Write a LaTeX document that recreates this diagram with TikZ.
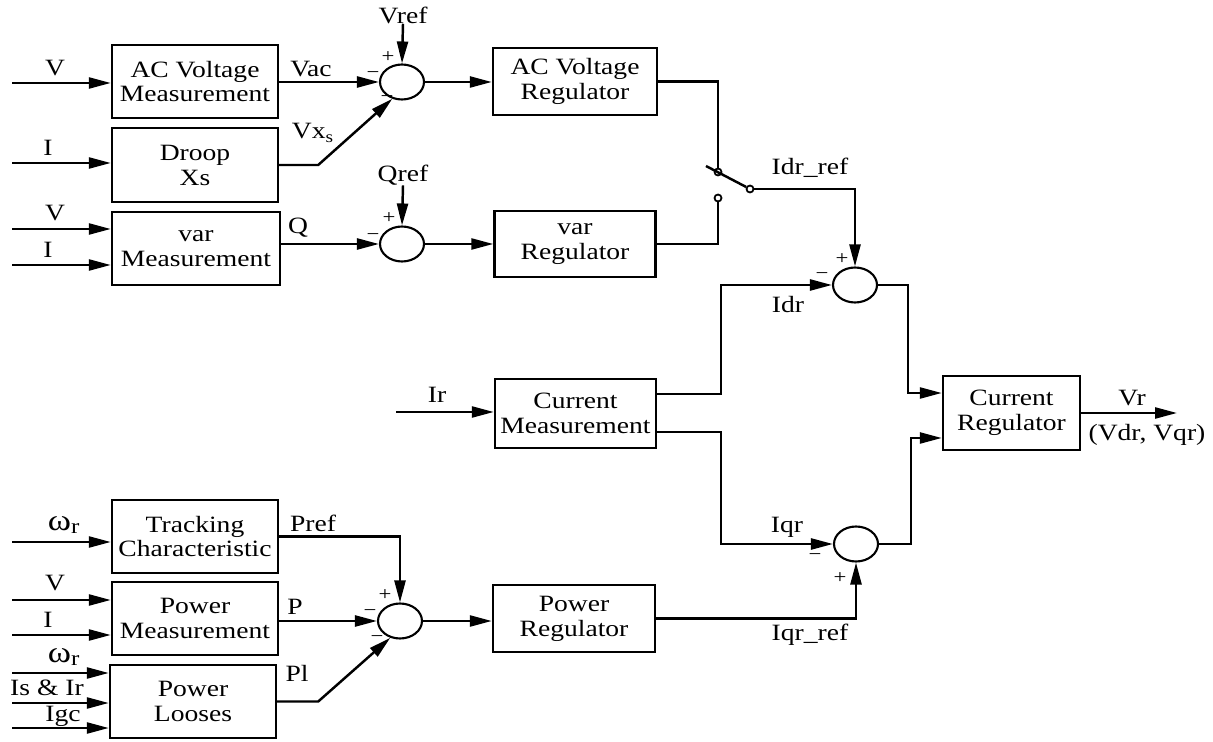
\documentclass[tikz,border=0pt]{standalone}
\usepackage{fontspec}
\setmainfont{Liberation Serif}[FakeStretch=1.18]
\usetikzlibrary{arrows.meta,shapes.geometric}

\newcommand{\blkfont}{\fontsize{13.3}{14.2}\selectfont}
\newcommand{\omr}{{\fontsize{17}{17}\selectfont ω}\textsubscript{\fontsize{12}{12}\selectfont r}}

\tikzset{
  block/.style={draw, line width=1.4pt, inner sep=0pt, align=center, font=\blkfont},
  sumpt/.style={draw, ellipse, line width=1.2pt, minimum width=0.88cm, minimum height=0.7cm, inner sep=0pt},
  sig/.style={line width=1.4pt, -{Triangle[length=0.44cm,width=0.22cm]}},
  wire/.style={line width=1.4pt},
  lbl/.style={font=\blkfont, inner sep=0pt},
  sgn/.style={font=\fontsize{11}{11}\selectfont, inner sep=0pt},
  contact/.style={draw, circle, fill=white, line width=1pt, minimum size=0.14cm, inner sep=0pt}
}

\begin{document}
\begin{tikzpicture}[x=0.02cm, y=-0.02cm]
        \useasboundingbox (0,0) rectangle (1213,742);

        % Blocks
        \node[block, minimum width=3.32cm, minimum height=1.46cm] (acm) at (195,81.5) {AC Voltage\\Measurement};
        \node[block, minimum width=3.32cm, minimum height=1.48cm] (droop) at (195,165) {Droop\\Xs};
        \node[block, minimum width=3.36cm, minimum height=1.46cm] (varm) at (196,248.5) {var\\Measurement};
        \node[block, minimum width=3.28cm, minimum height=1.34cm] (acr) at (575,81.5) {AC Voltage\\Regulator};
        \node[block, minimum width=3.22cm, minimum height=1.32cm] (varr) at (575,244) {var\\Regulator};
        \node[block, minimum width=3.22cm, minimum height=1.38cm] (curm) at (575.5,413.5) {Current\\Measurement};
        \node[block, minimum width=2.74cm, minimum height=1.48cm] (curr) at (1011.5,413) {Current\\Regulator};
        \node[block, minimum width=3.32cm, minimum height=1.46cm] (track) at (195,536.5) {Tracking\\Characteristic};
        \node[block, minimum width=3.32cm, minimum height=1.46cm] (powm) at (195,618.5) {Power\\Measurement};
        \node[block, minimum width=3.32cm, minimum height=1.46cm] (loss) at (193,701.5) {Power\\Looses};
        \node[block, minimum width=3.24cm, minimum height=1.34cm] (powr) at (574,618.5) {Power\\Regulator};

        % Summing points
        \node[sumpt] (s1) at (402,82) {};
        \node[sumpt] (s2) at (402,244) {};
        \node[sumpt] (s3) at (855,285) {};
        \node[sumpt] (s4) at (856,544) {};
        \node[sumpt] (s5) at (400,621) {};

        % Switch
        \node[contact] (swA) at (718,172) {};
        \node[contact] (swB) at (718,198) {};
        \node[contact] (swP) at (750,189) {};
        \coordinate (blade) at (706,166);

        % Inputs
        \foreach \y/\b in {83/acm, 163/droop, 229/varm, 265/varm, 542/track,
                           600/powm, 635/powm, 673/loss, 703/loss, 728/loss}
            \draw[sig] (12,\y) coordinate (in\y) -- (in\y -| \b.west);
        \coordinate (inIr) at (396,412);
        \draw[sig] (inIr) -- (inIr -| curm.west);

        % Voltage loop
        \node[lbl] (vref) at (403,15) {Vref};
        \draw[sig] (vref.south) -- (s1.north);
        \draw[sig] (acm.east |- s1) -- (s1.west);
        \draw[sig] (droop.east) -- ++(39,0) -- (s1.240);
        \draw[sig] (s1.east) -- (acr.west |- s1);
        \draw[wire] (acr.east) -| (swA.north);

        % var loop
        \node[lbl] (qref) at (403,175) {Qref};
        \draw[sig] (qref.south) -- (s2.north);
        \draw[sig] (varm.east |- s2) -- (s2.west);
        \draw[sig] (s2.east) -- (varr.west);
        \draw[wire] (varr.east) -| (swB.south);

        % Switch blade and rotor current loop
        \draw[wire] (swP) -- (blade);
        \draw[sig] (swP.east) -| (s3.north);
        \draw[sig] ([yshift=0.39cm]curm.east) -- ++(64,0) |- (s3.west);
        \draw[sig] ([yshift=-0.37cm]curm.east) -- ++(64,0) |- (s4.west);
        \draw[sig] (powr.east) -| (s4.south);
        \draw[sig] (s3.east) -- ++(30,0) |- ([yshift=0.4cm]curr.west);
        \draw[sig] (s4.east) -- ++(32,0) |- ([yshift=-0.5cm]curr.west);
        \coordinate (vout) at (1177,413);
        \draw[sig] (curr.east) -- (vout);

        % Power loop
        \draw[sig] (track.east) -| (s5.north);
        \draw[sig] (powm.east |- s5) -- (s5.west);
        \draw[sig] (loss.east) -- ++(41,0) -- (s5.240);
        \draw[sig] (s5.east) -- (powr.west |- s5);

        % Signal labels
        \node[lbl] (lV1) at (55,68) {V};
        \node[lbl] (lI1) at (48,148) {I};
        \node[lbl] (lV2) at (55,213) {V};
        \node[lbl] (lI2) at (48,250) {I};
        \node[lbl] (lVac) at (311,69) {Vac};
        \node[lbl] (lVxs) at (313,133) {Vx\textsubscript{s}};
        \node[lbl] (lQ) at (298,228) {Q};
        \node[lbl] (lIdrref) at (810,168) {Idr\_ref};
        \node[lbl] (lIdr) at (788,305) {Idr};
        \node[lbl] (lIr) at (437,395) {Ir};
        \node[lbl] (lIqr) at (787,527) {Iqr};
        \node[lbl] (lIqrref) at (810,635) {Iqr\_ref};
        \node[lbl] (lVr) at (1132,398) {Vr};
        \node[lbl] (lVdq) at (1147,435) {(Vdr, Vqr)};
        \node[lbl] (lw1) at (64,525) {\omr};
        \node[lbl] (lPref) at (313,523) {Pref};
        \node[lbl] (lV3) at (55,583) {V};
        \node[lbl] (lI3) at (48,620) {I};
        \node[lbl] (lP) at (295,607) {P};
        \node[lbl] (lw2) at (64,657) {\omr};
        \node[lbl] (lIsIr) at (47,688) {Is \& Ir};
        \node[lbl] (lIgc) at (63,716) {Igc};
        \node[lbl] (lPl) at (297,673) {Pl};

        % Signs
        \node[sgn] at (388,57) {+};
        \node[sgn] at (373,75) {−};
        \node[sgn] at (387,99) {−};
        \node[sgn] at (389,218) {+};
        \node[sgn] at (373,237) {−};
        \node[sgn] at (842,259) {+};
        \node[sgn] at (822,276) {−};
        \node[sgn] at (815,557) {−};
        \node[sgn] at (840,578) {+};
        \node[sgn] at (385,595) {+};
        \node[sgn] at (370,613) {−};
        \node[sgn] at (377,639) {−};

    \end{tikzpicture}
\end{document}
